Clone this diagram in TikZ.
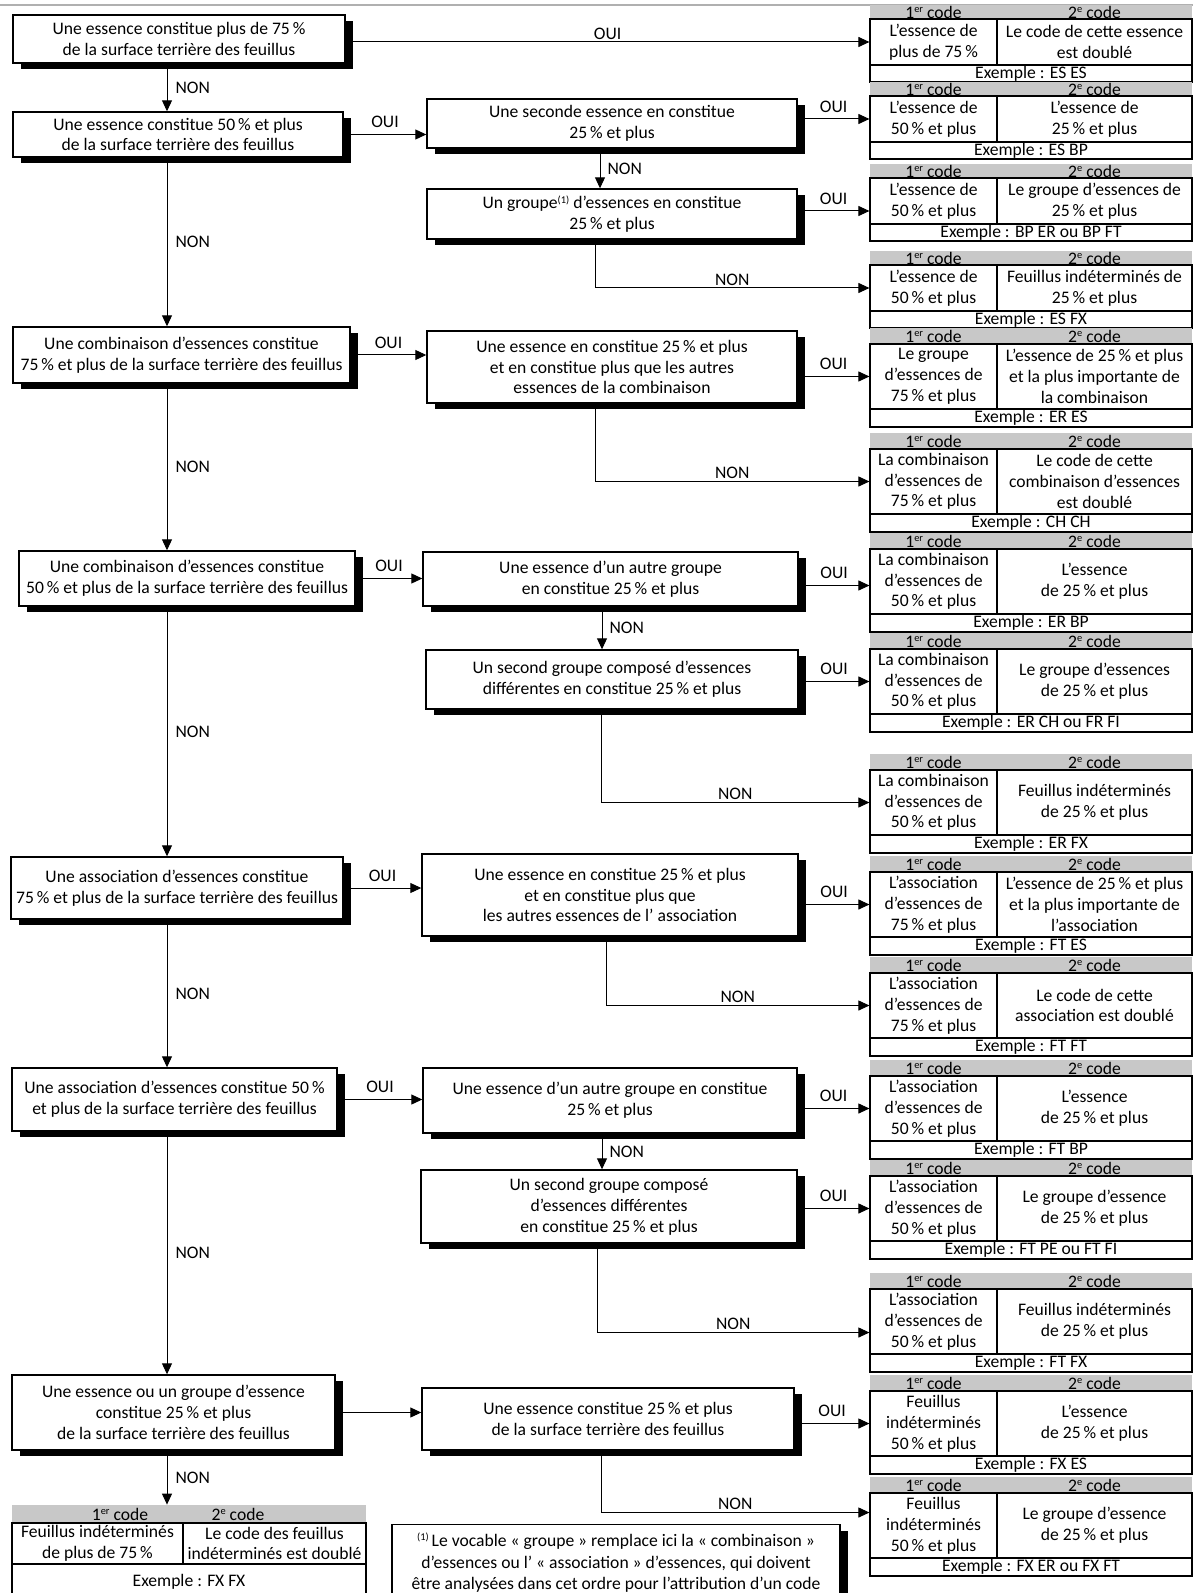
\documentclass[tikz,border=0pt]{standalone}
\usepackage{fontspec}
\setmainfont{Carlito}
\usetikzlibrary{arrows.meta,shadows}
\definecolor{headgray}{HTML}{C8C8C8}
\definecolor{rulegray}{HTML}{B0B0B0}

% petit exposant
\newcommand{\exposant}[1]{\raisebox{0.32em}{\fontsize{5.2}{5.2}\selectfont #1}}

% tableau de codes : nom, haut, lignes, 1er code, 2e code, exemple
\newcommand{\codetable}[6]{%
  \ifnum#3=2 \def\tabhh{14}\def\tabbh{46}\def\tabeh{17}\else\def\tabhh{16}\def\tabbh{65}\def\tabeh{18}\fi
  \pgfmathsetmacro{\tabyh}{#2+\tabhh/2}
  \pgfmathsetmacro{\tabyb}{#2+\tabhh+\tabbh/2}
  \pgfmathsetmacro{\tabye}{#2+\tabhh+\tabbh+\tabeh/2}
  \node[hdr, minimum width=63.5pt, minimum height=\tabhh*0.5pt] (#1a) at (933.5,\tabyh) {1\exposant{er} code};
  \node[hdr, minimum width=97.5pt, minimum height=\tabhh*0.5pt] (#1b) at (1094.5,\tabyh) {2\exposant{e} code};
  \node[cell, minimum width=63.5pt, minimum height=\tabbh*0.5pt] (#1) at (933.5,\tabyb) {#4};
  \node[cell, minimum width=97.5pt, minimum height=\tabbh*0.5pt] (#1r) at (1094.5,\tabyb) {#5};
  \node[cell, minimum width=161pt, minimum height=\tabeh*0.5pt] (#1x) at (1031,\tabye) {Exemple~: #6};
}

\begin{document}
\begin{tikzpicture}[x=0.5pt, y=-0.5pt,
    font=\fontsize{8.8}{10.4}\selectfont,
    decision/.style={draw, line width=0.7pt, fill=white, align=center, inner sep=0pt,
      drop shadow={shadow xshift=4pt, shadow yshift=-3pt, fill=black, opacity=1}},
    cell/.style={draw, line width=0.6pt, fill=white, align=center, inner sep=0pt},
    hdr/.style={fill=headgray, inner sep=0pt},
    arr/.style={line width=0.5pt, -{Triangle[length=5.5pt, width=5pt]}},
    lab/.style={inner sep=1pt}]
    \path[fill=white, use as bounding box] (0,0) rectangle (1193,1593);
    \draw[rulegray, line width=1pt] (0,5) -- (1193,5);
    \coordinate (trunk) at (167,0);

    % colonne de gauche
    \node[decision, minimum width=166pt, minimum height=24pt] (L1) at (179,39) {Une essence constitue plus de 75\,\%\\de la surface terrière des feuillus};
    \node[decision, minimum width=165pt, minimum height=22.5pt] (L2) at (178,134.5) {Une essence constitue 50\,\% et plus\\de la surface terrière des feuillus};
    \node[decision, minimum width=168.5pt, minimum height=28pt] (L3) at (181.5,355) {Une combinaison d’essences constitue\\75\,\% et plus de la surface terrière des feuillus};
    \node[decision, minimum width=168pt, minimum height=27.5pt] (L4) at (187,578.5) {Une combinaison d’essences constitue\\50\,\% et plus de la surface terrière des feuillus};
    \node[decision, minimum width=166pt, minimum height=31pt] (L5) at (177,888) {Une association d’essences constitue\\75\,\% et plus de la surface terrière des feuillus};
    \node[decision, minimum width=162.5pt, minimum height=31.5pt] (L6) at (174.5,1099.5) {Une association d’essences constitue 50\,\%\\et plus de la surface terrière des feuillus};
    \node[decision, minimum width=161.5pt, minimum height=37.5pt] (L7) at (173.5,1412.5) {Une essence ou un groupe d’essence\\constitue 25\,\% et plus\\de la surface terrière des feuillus};

    % colonne du milieu
    \node[decision, minimum width=185pt, minimum height=24.5pt] (M1) at (612,123.5) {Une seconde essence en constitue\\25\,\% et plus};
    \node[decision, minimum width=185pt, minimum height=25pt] (M2) at (612,214) {Un groupe\exposant{(1)} d’essences en constitue\\25\,\% et plus};
    \node[decision, minimum width=185pt, minimum height=36pt] (M3) at (612,367) {Une essence en constitue 25\,\% et plus\\et en constitue plus que les autres\\essences de la combinaison};
    \node[decision, minimum width=187.5pt, minimum height=27pt] (M4) at (610.5,579) {Une essence d’un autre groupe\\en constitue 25\,\% et plus};
    \node[decision, minimum width=186pt, minimum height=29.5pt] (M5) at (612,679.5) {Un second groupe composé d’essences\\différentes en constitue 25\,\% et plus};
    \node[decision, minimum width=188pt, minimum height=41pt] (M6) at (610,895) {Une essence en constitue 25\,\% et plus\\et en constitue plus que\\les autres essences de l’ association};
    \node[decision, minimum width=187pt, minimum height=32.5pt] (M7) at (610,1100.5) {Une essence d’un autre groupe en constitue\\25\,\% et plus};
    \node[decision, minimum width=188pt, minimum height=36.5pt] (M8) at (609,1206.5) {Un second groupe composé\\d’essences différentes\\en constitue 25\,\% et plus};
    \node[decision, minimum width=186pt, minimum height=31pt] (M9) at (608,1419) {Une essence constitue 25\,\% et plus\\de la surface terrière des feuillus};

    % tableaux des codes
    \codetable{T1}{5}{2}{L’essence de\\plus de 75\,\%}{Le code de cette essence\\est doublé}{ES ES}
    \codetable{T2}{82}{2}{L’essence de\\50\,\% et plus}{L’essence de\\25\,\% et plus}{ES BP}
    \codetable{T3}{164}{2}{L’essence de\\50\,\% et plus}{Le groupe d’essences de\\25\,\% et plus}{BP ER ou BP FT}
    \codetable{T4}{251}{2}{L’essence de\\50\,\% et plus}{Feuillus indéterminés de\\25\,\% et plus}{ES FX}
    \codetable{T5}{328}{3}{Le groupe\\d’essences de\\75\,\% et plus}{L’essence de 25\,\% et plus\\et la plus importante de\\la combinaison}{ER ES}
    \codetable{T6}{433}{3}{La combinaison\\d’essences de\\75\,\% et plus}{Le code de cette\\combinaison d’essences\\est doublé}{CH CH}
    \codetable{T7}{533}{3}{La combinaison\\d’essences de\\50\,\% et plus}{L’essence\\de 25\,\% et plus}{ER BP}
    \codetable{T8}{633}{3}{La combinaison\\d’essences de\\50\,\% et plus}{Le groupe d’essences\\de 25\,\% et plus}{ER CH ou FR FI}
    \codetable{T9}{754}{3}{La combinaison\\d’essences de\\50\,\% et plus}{Feuillus indéterminés\\de 25\,\% et plus}{ER FX}
    \codetable{T10}{856}{3}{L’association\\d’essences de\\75\,\% et plus}{L’essence de 25\,\% et plus\\et la plus importante de\\l’association}{FT ES}
    \codetable{T11}{957}{3}{L’association\\d’essences de\\75\,\% et plus}{Le code de cette\\association est doublé}{FT FT}
    \codetable{T12}{1060}{3}{L’association\\d’essences de\\50\,\% et plus}{L’essence\\de 25\,\% et plus}{FT BP}
    \codetable{T13}{1160}{3}{L’association\\d’essences de\\50\,\% et plus}{Le groupe d’essence\\de 25\,\% et plus}{FT PE ou FT FI}
    \codetable{T14}{1273}{3}{L’association\\d’essences de\\50\,\% et plus}{Feuillus indéterminés\\de 25\,\% et plus}{FT FX}
    \codetable{T15}{1375}{3}{Feuillus\\indéterminés\\50\,\% et plus}{L’essence\\de 25\,\% et plus}{FX ES}
    \codetable{T16}{1477}{3}{Feuillus\\indéterminés\\50\,\% et plus}{Le groupe d’essence\\de 25\,\% et plus}{FX ER ou FX FT}

    % tableau du bas et note
    \node[hdr, minimum width=177pt, minimum height=9pt] (LTh) at (189,1514) {};
    \node (LTa) at (120,1514) {1\exposant{er} code};
    \node (LTb) at (238,1514) {2\exposant{e} code};
    \node[cell, minimum width=85.5pt, minimum height=20.5pt] (LT) at (97.5,1543.5) {Feuillus indéterminés\\de plus de 75\,\%};
    \node[cell, minimum width=91.5pt, minimum height=20.5pt] (LTr) at (274.5,1543.5) {Le code des feuillus\\indéterminés est doublé};
    \node[cell, minimum width=177pt, minimum height=18pt] (LTx) at (189,1582) {Exemple~: FX~FX};
    \node[decision, minimum width=224pt, minimum height=38.5pt, font=\fontsize{8.8}{10.8}\selectfont] (note) at (616,1563) {\exposant{(1)}\,Le vocable «~groupe~» remplace ici la «~combinaison~»\\d’essences ou l’ «~association~» d’essences, qui doivent\\être analysées dans cet ordre pour l’attribution d’un code};

    % liaisons de gauche
    \draw[arr] (T1.west -| L1.east) -- node[lab, above] {OUI} (T1.west);
    \draw[arr] (L1.south -| trunk) -- node[lab, right=3pt] {NON} (L2.north -| trunk);
    \draw[arr] (L2.south -| trunk) -- node[lab, right=3pt] {NON} (L3.north -| trunk);
    \draw[arr] (L3.south -| trunk) -- node[lab, right=3pt] {NON} (L4.north -| trunk);
    \draw[arr] (L4.south -| trunk) -- node[lab, right=3pt] {NON} (L5.north -| trunk);
    \draw[arr] (L5.south -| trunk) -- node[lab, right=3pt] {NON} (L6.north -| trunk);
    \draw[arr] (L6.south -| trunk) -- node[lab, right=3pt] {NON} (L7.north -| trunk);
    \draw[arr] (L7.south -| trunk) -- node[lab, right=3pt] {NON} (LTh.north -| trunk);

    % liaisons vers le milieu
    \draw[arr] (L2.east) -- node[lab, above=2pt] {OUI} (L2.east -| M1.west);
    \draw[arr] (L3.east) -- node[lab, above=2pt] {OUI} (L3.east -| M3.west);
    \draw[arr] (L4.east) -- node[lab, above=2pt] {OUI} (L4.east -| M4.west);
    \draw[arr] (L5.east) -- node[lab, above=2pt] {OUI} (L5.east -| M6.west);
    \draw[arr] (L6.east) -- node[lab, above=2pt] {OUI} (L6.east -| M7.west);
    \draw[arr] (L7.east) -- (L7.east -| M9.west);

    % liaisons vers les tableaux
    \draw[arr] (T2.west -| M1.east) -- node[lab, above=2pt] {OUI} (T2.west);
    \draw[arr] ([yshift=-5pt]T3.west -| M2.east) -- node[lab, above=2pt] {OUI} ([yshift=-5pt]T3.west);
    \draw[arr] (T5.west -| M3.east) -- node[lab, above=2pt] {OUI} (T5.west);
    \draw[arr] ([yshift=-2pt]T7.west -| M4.east) -- node[lab, above=2pt] {OUI} ([yshift=-2pt]T7.west);
    \draw[arr] (T8.west -| M5.east) -- node[lab, above=2pt] {OUI} (T8.west);
    \draw[arr] (T10.west -| M6.east) -- node[lab, above=2pt] {OUI} (T10.west);
    \draw[arr] (T12.west -| M7.east) -- node[lab, above=2pt] {OUI} (T12.west);
    \draw[arr] (T13.west -| M8.east) -- node[lab, above=2pt] {OUI} (T13.west);
    \draw[arr] (T15.west -| M9.east) -- node[lab, above=2pt] {OUI} (T15.west);

    % NON du milieu
    \draw[arr] ([xshift=-6pt]M1.south) -- node[lab, right=2.5pt] {NON} ([xshift=-6pt]M1.south |- M2.north);
    \draw[arr] ([xshift=-4.25pt]M4.south) -- node[lab, right=2.5pt] {NON} ([xshift=-4.25pt]M4.south |- M5.north);
    \draw[arr] ([xshift=-4pt]M7.south) -- node[lab, right=2.5pt] {NON} ([xshift=-4pt]M7.south |- M8.north);
    \draw[arr] ([xshift=-8.5pt]M2.south) |- node[lab, pos=0.75, above] {NON} (T4.west);
    \draw[arr] ([xshift=-8.5pt]M3.south) |- node[lab, pos=0.75, above] {NON} (T6.west);
    \draw[arr] ([xshift=-5.5pt]M5.south) |- node[lab, pos=0.75, above] {NON} (T9.west);
    \draw[arr] ([xshift=-2pt]M6.south) |- node[lab, pos=0.75, above] {NON} (T11.west);
    \draw[arr] ([xshift=-6pt]M8.south) |- node[lab, pos=0.75, above] {NON} ([yshift=-5.5pt]T14.west);
    \draw[arr] ([xshift=-3.5pt]M9.south) |- node[lab, pos=0.75, above] {NON} ([yshift=6.5pt]T16.west);
\end{tikzpicture}
\end{document}
